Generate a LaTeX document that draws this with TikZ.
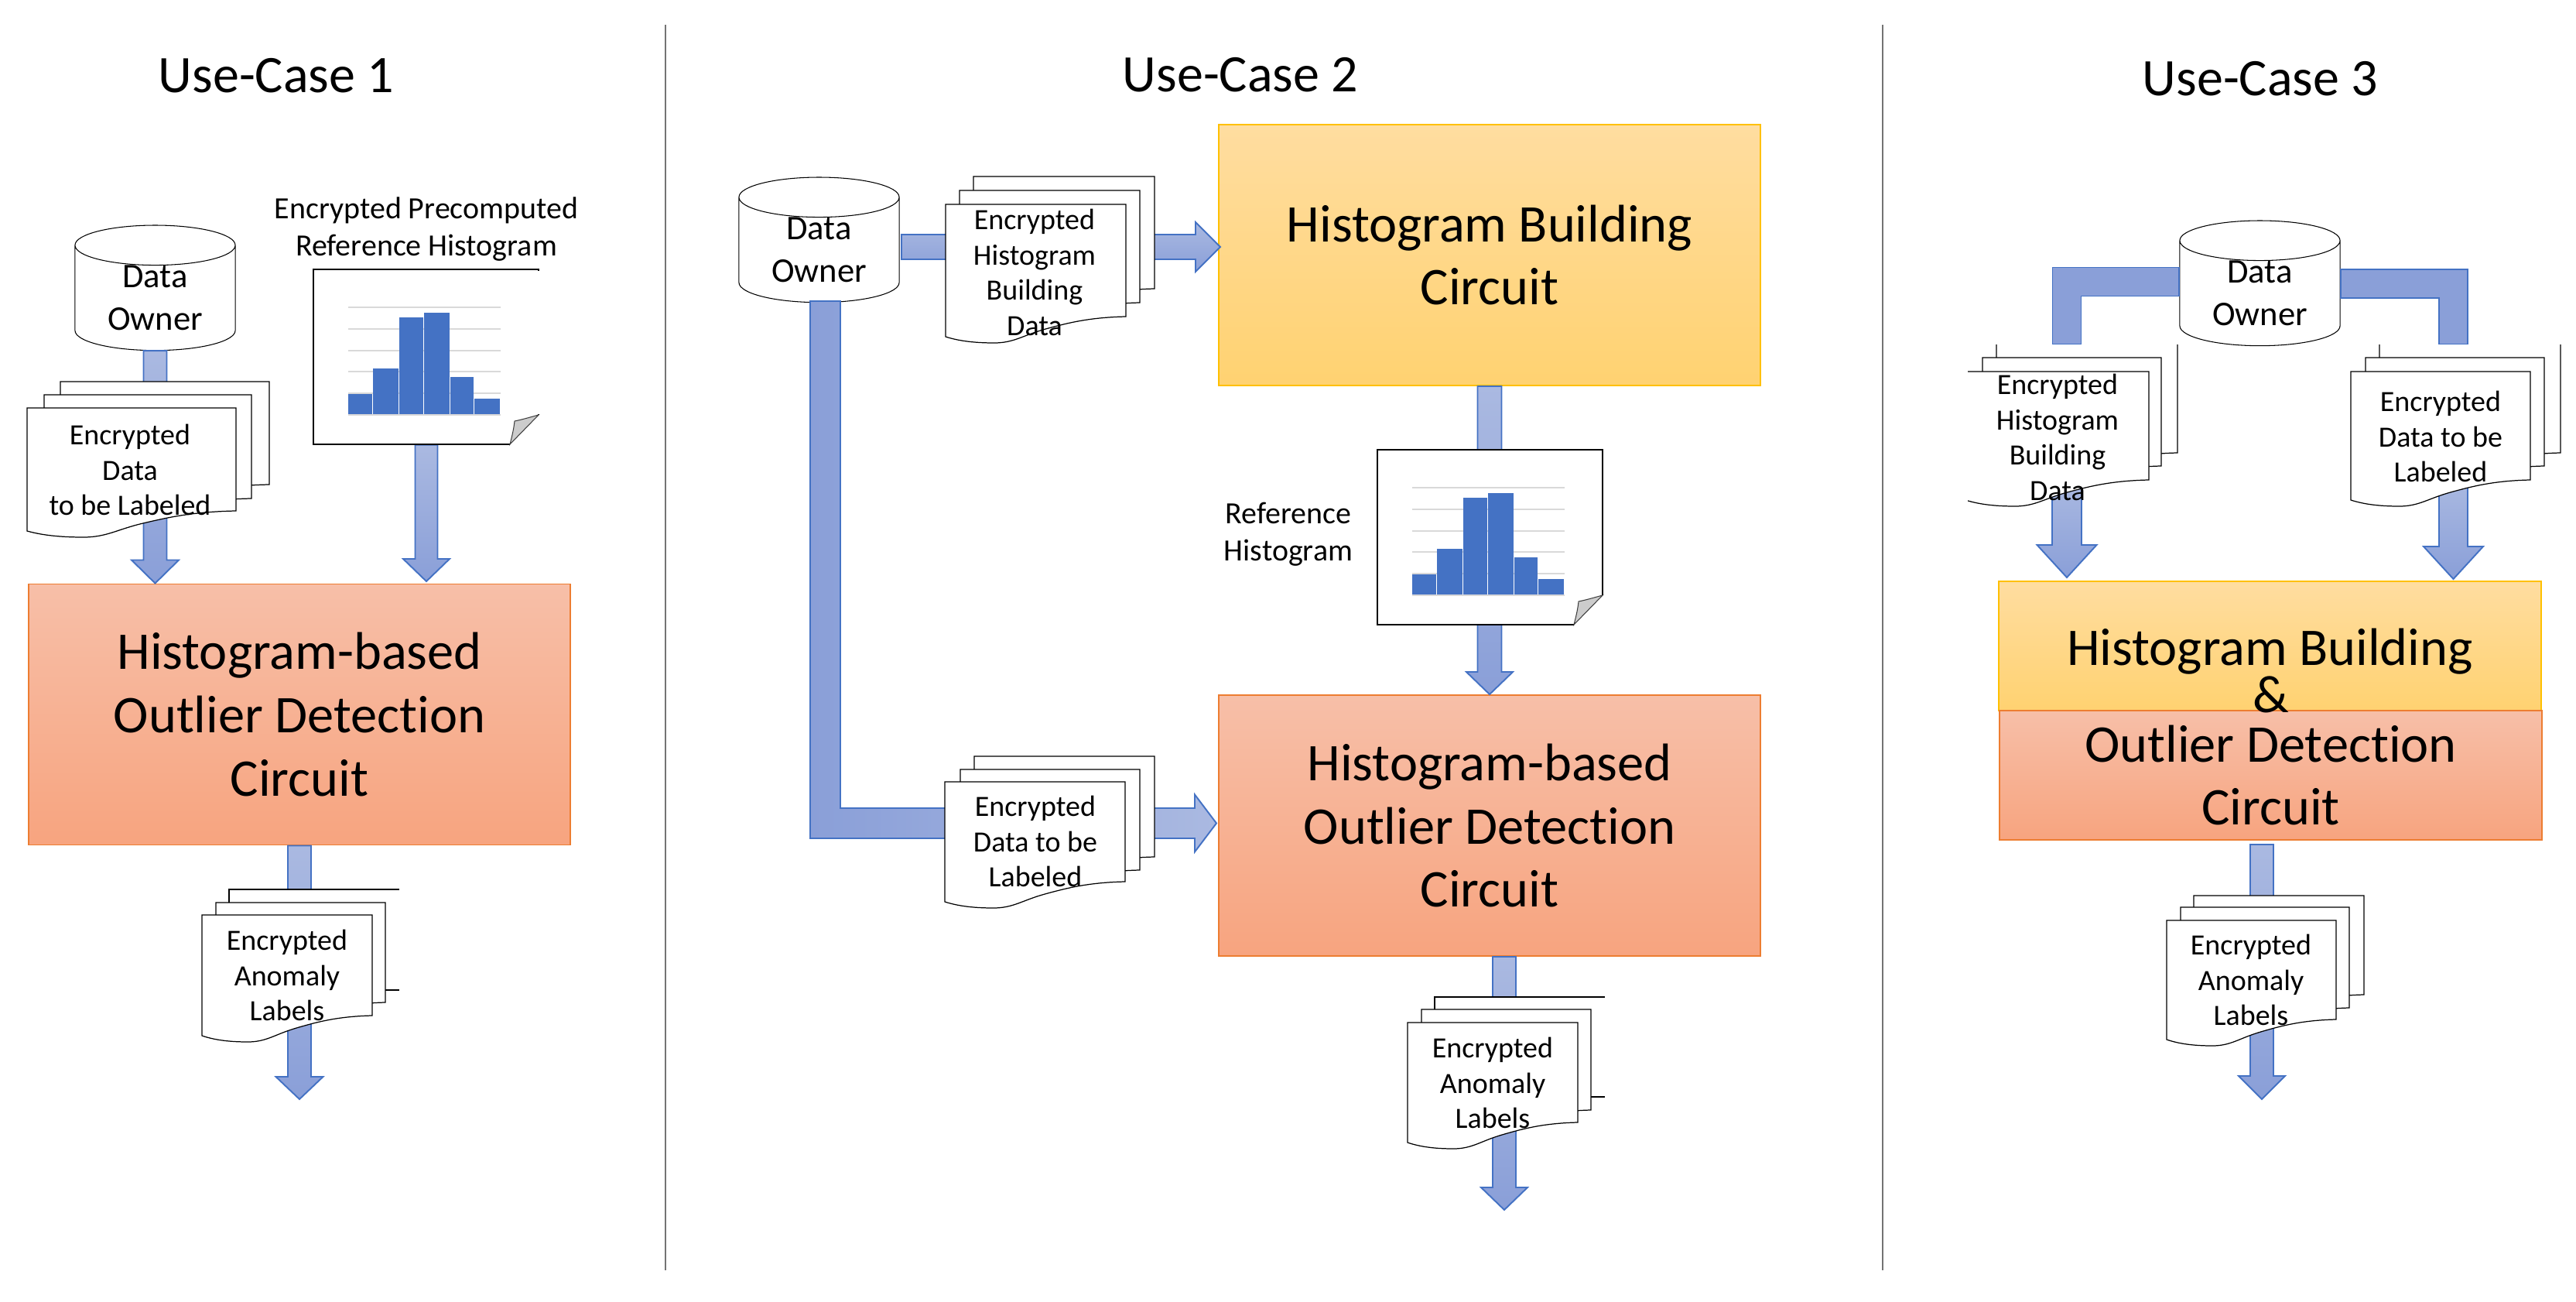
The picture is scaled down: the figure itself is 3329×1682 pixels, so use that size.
\documentclass[tikz,border=0pt]{standalone}
\usepackage{fontspec}
\setmainfont{Carlito}[Ligatures=NoCommon]
\usetikzlibrary{calc}
\usetikzlibrary{positioning}
\usetikzlibrary{shapes.geometric}

\definecolor{flowline}{HTML}{4472C4}
\definecolor{flowlight}{HTML}{AAB9E1}
\definecolor{flowdark}{HTML}{8A9FD8}
\definecolor{orangeline}{HTML}{ED7D31}
\definecolor{orangetop}{HTML}{F7BFA8}
\definecolor{orangebot}{HTML}{F7A47F}
\definecolor{yellowline}{HTML}{FFC000}
\definecolor{yellowtop}{HTML}{FFDDA0}
\definecolor{yellowbot}{HTML}{FFD271}

\def\pxu{0.01cm}

\tikzset{
	title text/.style={font=\fontsize{19.35}{23}\selectfont,inner sep=0},
	big text/.style={font=\fontsize{19.45}{23.3}\selectfont,align=center,inner sep=0},
	doc text/.style={font=\fontsize{10.8}{13}\selectfont,align=center,inner sep=0},
	ref text/.style={font=\fontsize{11.35}{13.7}\selectfont,align=center,inner sep=0},
	orange box/.style={draw=orangeline,line width=0.5pt,top color=orangetop,bottom color=orangebot,minimum width=7cm,minimum height=3.37cm,big text},
	yellow box/.style={draw=yellowline,line width=0.5pt,top color=yellowtop,bottom color=yellowbot,minimum width=7cm,big text},
	owner/.style={shape=cylinder,shape border rotate=90,shape aspect=0.42,draw,fill=white,line width=0.3pt,minimum width=2.07cm,minimum height=1.61cm,inner sep=0,align=center,font=\fontsize{12.7}{15.6}\selectfont},
	sheet/.style={draw=black,fill=white,line width=0.35pt},
	flow arrow/.style={draw=flowline,line width=0.55pt,top color=flowlight,bottom color=flowdark},
	flow elbow/.style={draw=flowline,line width=0.55pt,left color=flowdark,right color=flowlight},
	flow bar/.style={draw=flowline,line width=0.55pt,fill=flowdark},
	split line/.style={draw=black!55,line width=0.45pt},
	page anchor/.style={minimum width=2.91cm,minimum height=2.26cm,inner sep=0}
}

% block arrow pointing down: from, tip, half shaft, half head, head length
\newcommand{\flowdown}[5]{
	\draw[flow arrow] let \p1=(#1),\p2=(#2) in
	({\x2-#3*\pxu},\y1) -- ({\x2+#3*\pxu},\y1) -- ({\x2+#3*\pxu},{\y2+#5*\pxu})
	-- ({\x2+#4*\pxu},{\y2+#5*\pxu}) -- (\x2,\y2) -- ({\x2-#4*\pxu},{\y2+#5*\pxu})
	-- ({\x2-#3*\pxu},{\y2+#5*\pxu}) -- cycle;
}
% elbow bar out of the side of a cylinder: from, end, side, half width
\newcommand{\flowelbow}[4]{
	\draw[flow bar] let \p1=(#1),\p2=(#2) in
	(\x1,{\y1+#4*\pxu}) -- ({\x2+#3*#4*\pxu},{\y1+#4*\pxu}) -- ({\x2+#3*#4*\pxu},\y2)
	-- ({\x2-#3*#4*\pxu},\y2) -- ({\x2-#3*#4*\pxu},{\y1-#4*\pxu}) -- (\x1,{\y1-#4*\pxu}) -- cycle;
}
% one sheet with a wavy lower edge: x, y, width, height
\newcommand{\docsheet}[4]{
	\draw[sheet,shift={(#1,#2)}] (0,0) -- (#3,0) -- (#3,#4)
	.. controls ({.8*#3},{#4+1}) and ({.68*#3},{#4+8}) .. ({.555*#3},{#4+16})
	.. controls ({.43*#3},{#4+24}) and ({.38*#3},{#4+34}) .. ({.27*#3},{#4+34})
	.. controls ({.17*#3},{#4+34}) and ({.08*#3},{#4+32}) .. (0,{#4+26}) -- cycle;
}
% backmost sheet without a right edge: x, y, width, height, where the stub starts
\newcommand{\docsheetopen}[5]{
	\fill[white] (#1,#2) rectangle ++(#3,#4);
	\draw[sheet,fill=none,shift={(#1,#2)}] (#3,0) -- (0,0) -- (0,#4) -- (#5,#4) -- (#3,#4);
}
% histogram page: x, y, colour of the right edge
\newcommand{\histpage}[3]{
	\begin{scope}[shift={(#1,#2)}]
		\fill[white] (0,0) rectangle (291,226);
		\draw[black,line width=0.45pt] (291,188) -- (291,0) -- (0,0) -- (0,226) -- (254,226);
		\draw[#3,line width=0.5pt] (291,2) -- (291,187);
		\fill[white] (254,226) -- (291,188) -- (291,226) -- cycle;
		\draw[fill=black!20,draw=black!75,line width=0.3pt] (254,226) .. controls (257,214) and (259,206) .. (260,196) .. controls (270,194) and (280,191) .. (291,188) -- cycle;
		\foreach \yg in {49,77,105,132,160,188}
			\draw[black!15,line width=0.48pt] (45,\yg) -- (242,\yg);
		\foreach \xa/\xb/\yt in {45/76/161,77/110/128,111/142/62,143/176/56,177/207/139,208/241/167}
			\fill[flowline] (\xa,\yt) rectangle (\xb,187);
	\end{scope}
}

\begin{document}
\begin{tikzpicture}[x=0.01cm,y=-0.01cm]
	\useasboundingbox (0,0) rectangle (3329,1682);

	% Dividers
	\coordinate (sa) at (860,32);
	\coordinate (sb) at (860,1641);
	\coordinate (sc) at (2433,32);
	\coordinate (sd) at (2433,1641);
	\draw[split line] (sa) -- (sb);
	\draw[split line] (sc) -- (sd);

	% Titles
	\node[title text] (title1) at (357,98) {Use-Case 1};
	\node[title text] (title2) at (1603,97) {Use-Case 2};
	\node[title text] (title3) at (2921,102) {Use-Case 3};

	% The circuits
	\node[orange box] (outlier1) at (387,923) {Histogram-based\\Outlier Detection\\Circuit};
	\node[yellow box,minimum height=3.37cm] (build2) at (1925,329.5) {Histogram Building\\Circuit};
	\node[orange box] (outlier2) at (1925,1066.5) {Histogram-based\\Outlier Detection\\Circuit};
	\node[yellow box,minimum height=1.67cm] (build3) at (2933.5,834.5) {\raisebox{-3.1pt}[12pt][4pt]{Histogram Building}};
	\node[orange box,minimum height=1.67cm] (outlier3) at (2934.5,1001.5) {Outlier Detection\\Circuit};
	\node[big text] (amp3) at (2935,897) {\&};

	% The data owners
	\node[owner] (owner1) at (200.5,385) {Data\\Owner};
	\node[owner] (owner2) at (1058.5,323) {Data\\Owner};
	\node[owner] (owner3) at (2920.5,379) {Data\\Owner};

	% Histogram pages
	\node[page anchor] (ref1) at (550.5,461) {};
	\node[page anchor] (ref2) at (1925.5,694) {};

	% Free ends of the arrows
	\coordinate (tip1) at (551,751);
	\coordinate (tip2) at (387,1420);
	\coordinate (tip3) at (1944,1563);
	\coordinate (tip4) at (1577,319);
	\coordinate (tip5) at (1572,1063.5);
	\coordinate (start4) at (1165,319);
	\coordinate (start5) at (1066.5,389);
	\coordinate (end3a) at (2671,445);
	\coordinate (end3b) at (3170.5,445);
	\coordinate (start3a) at (2671,620);
	\coordinate (start3b) at (3170.5,620);
	\coordinate (tip3a) at (2671,746);
	\coordinate (tip3b) at (3170.5,748);
	\coordinate (start3c) at (2923,1091);
	\coordinate (tip3c) at (2923,1420);

	% Use-case 1 arrows
	\flowdown{owner1.south}{outlier1.north -| owner1.south}{15}{30.5}{30}
	\flowdown{ref1.south}{tip1}{14.5}{30}{29}
	\flowdown{outlier1.south}{tip2}{15}{30.5}{29}

	% Use-case 2 arrows
	\flowdown{build2.south}{outlier2.north}{15.5}{30}{29}
	\flowdown{outlier2.south}{tip3}{15}{30}{29}
	\draw[flow arrow] let \p1=(start4),\p2=(tip4) in
		(\x1,{\y2+16*\pxu}) -- ({\x2-32*\pxu},{\y2+16*\pxu}) -- ({\x2-32*\pxu},{\y2+32*\pxu}) -- (\x2,\y2)
		-- ({\x2-32*\pxu},{\y2-32*\pxu}) -- ({\x2-32*\pxu},{\y2-16*\pxu}) -- (\x1,{\y2-16*\pxu}) -- cycle;
	\draw[flow elbow] let \p1=(start5),\p2=(tip5) in
		({\x1-19.5*\pxu},\y1) -- ({\x1+19.5*\pxu},\y1) -- ({\x1+19.5*\pxu},{\y2+19.5*\pxu})
		-- ({\x2-28*\pxu},{\y2+19.5*\pxu}) -- ({\x2-28*\pxu},{\y2+37*\pxu}) -- (\x2,\y2)
		-- ({\x2-28*\pxu},{\y2-37*\pxu}) -- ({\x2-28*\pxu},{\y2-19.5*\pxu}) -- ({\x1-19.5*\pxu},{\y2-19.5*\pxu}) -- cycle;

	% Use-case 3 arrows
	\flowelbow{$(owner3.west)+(0,-15)$}{end3a}{-1}{18.5}
	\flowelbow{$(owner3.east)+(0,-12.5)$}{end3b}{1}{18.5}
	\flowdown{start3a}{tip3a}{19}{38.5}{42}
	\flowdown{start3b}{tip3b}{18.5}{38.5}{42}
	\flowdown{start3c}{tip3c}{15}{30}{30}

	% Sheets, back to front
	\docsheetopen{296}{1149}{220}{130}{202}
	\docsheetopen{1854}{1288}{220}{129}{202}
	\foreach \xs/\ys/\ws/\hs in {78/493/270/133,57/510/268/134,35/527/270/133,
			279/1166/219/129,261/1182/220/130,
			1258/228/234/145,1240/246/233/145,1222/264/233/145,
			1259/977/233/130,1241/994/232/130,1221/1010/233/129,
			1837/1304/219/130,1819/1321/220/129,
			2835/1157/220/128,2818/1172/218/130,2800/1189/219/128}
		{\docsheet{\xs}{\ys}{\ws}{\hs}}
	\begin{scope}
		\clip (2543,445) rectangle (3329,700);
		\foreach \xs/\ys/\ws/\hs in {2580/440/234/145,2562/462/231/140,2540/480/237/140,
				3075/440/234/145,3057/462/231/140,3038/480/232/140}
			{\docsheet{\xs}{\ys}{\ws}{\hs}}
	\end{scope}

	% Sheet labels
	\node[doc text] (doc1) at (168,607) {Encrypted\\Data\\to be Labeled};
	\node[doc text] (labels1) at (371,1260) {Encrypted\\Anomaly\\Labels};
	\node[doc text] (doc2a) at (1337,352) {Encrypted\\Histogram\\Building\\Data};
	\node[doc text] (doc2b) at (1338,1087) {Encrypted\\Data to be\\Labeled};
	\node[doc text] (labels2) at (1929,1399) {Encrypted\\Anomaly\\Labels};
	\node[doc text] (doc3a) at (2659,565) {Encrypted\\Histogram\\Building\\Data};
	\node[doc text] (doc3b) at (3154,564) {Encrypted\\Data to be\\Labeled};
	\node[doc text] (labels3) at (2909,1266) {Encrypted\\Anomaly\\Labels};

	% Histogram pages and their labels
	\histpage{405}{348}{white}
	\histpage{1780}{581}{black}
	\node[ref text] (reftext1) at (551,296) {Encrypted Precomputed\\Reference Histogram};
	\node[ref text] (reftext2) at (1665,690) {Reference\\Histogram};

\end{tikzpicture}
\end{document}
